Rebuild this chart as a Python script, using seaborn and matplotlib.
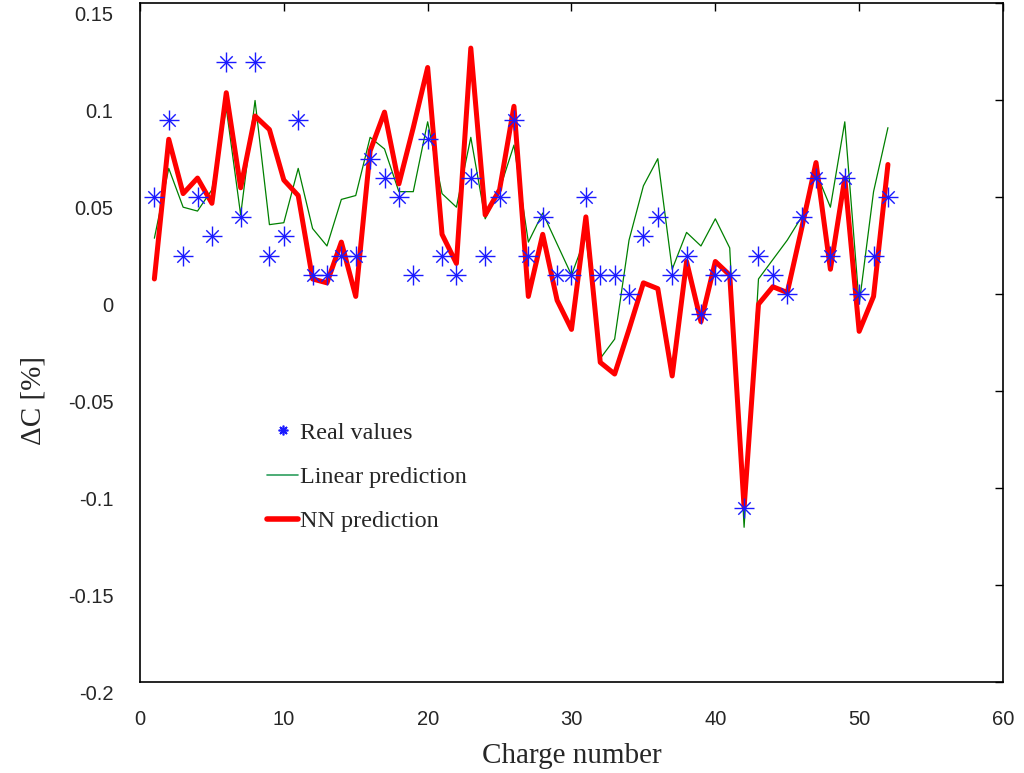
import numpy as np
import pandas as pd
import matplotlib
matplotlib.use("Agg")
import matplotlib.pyplot as plt
import matplotlib.transforms as mtransforms
from matplotlib.lines import Line2D
import seaborn as sns

charge = list(range(1, 53))

real_values = [0.05, 0.09, 0.02, 0.05, 0.03, 0.12, 0.04, 0.12, 0.02, 0.03,
               0.09, 0.01, 0.01, 0.02, 0.02, 0.07, 0.06, 0.05, 0.01, 0.08,
               0.02, 0.01, 0.06, 0.02, 0.05, 0.09, 0.02, 0.04, 0.01, 0.01,
               0.05, 0.01, 0.01, 0.00, 0.03, 0.04, 0.01, 0.02, -0.01, 0.01,
               0.01, -0.11, 0.02, 0.01, 0.00, 0.04, 0.06, 0.02, 0.06, 0.00,
               0.02, 0.05]

linear_pred = [0.029, 0.065, 0.045, 0.043, 0.054, 0.096, 0.041, 0.100, 0.036, 0.037,
               0.065, 0.034, 0.025, 0.049, 0.051, 0.081, 0.075, 0.053, 0.053, 0.089,
               0.052, 0.045, 0.081, 0.039, 0.054, 0.077, 0.027, 0.042, 0.026, 0.010,
               0.030, -0.033, -0.023, 0.028, 0.056, 0.070, 0.013, 0.032, 0.025, 0.039,
               0.024, -0.120, 0.008, 0.018, 0.028, 0.040, 0.063, 0.045, 0.089, -0.005,
               0.053, 0.086]

nn_pred = [0.008, 0.080, 0.052, 0.060, 0.047, 0.104, 0.055, 0.092, 0.085, 0.059,
           0.051, 0.008, 0.006, 0.027, -0.001, 0.074, 0.094, 0.057, 0.086, 0.117,
           0.031, 0.016, 0.127, 0.041, 0.054, 0.097, -0.001, 0.031, -0.003, -0.018,
           0.040, -0.035, -0.041, -0.018, 0.006, 0.003, -0.042, 0.017, -0.014, 0.017,
           0.010, -0.110, -0.005, 0.004, 0.001, 0.034, 0.068, 0.013, 0.060, -0.019,
           -0.001, 0.067]

x_ticks = [0, 10, 20, 30, 40, 50, 60]
y_ticks = [-0.2, -0.15, -0.1, -0.05, 0, 0.05, 0.1, 0.15]
y_tick_labels = ["-0.2", "-0.15", "-0.1", "-0.05", "0", "0.05", "0.1", "0.15"]

df = pd.DataFrame({"charge": charge, "real": real_values,
                   "linear": linear_pred, "nn": nn_pred})

sns.set_style("white")
plt.rcParams["font.family"] = ["Liberation Sans", "DejaVu Sans"]
serif = ["Liberation Serif", "DejaVu Serif"]
blue = "#1a1aff"

fig = plt.figure(figsize=(10.24, 7.73), dpi=100)
ax = fig.add_axes([0.1367, 0.1171, 0.8428, 0.8784])

sns.lineplot(data=df, x="charge", y="linear", ax=ax, color="#008000",
             linewidth=0.9, legend=False)
sns.lineplot(data=df, x="charge", y="nn", ax=ax, color="#ff0000",
             linewidth=3.6, legend=False)
# matlab style '*' = plus with a smaller x on top
sns.scatterplot(data=df, x="charge", y="real", ax=ax, marker="+", s=190,
                color=blue, linewidth=1.0, legend=False, zorder=3)
sns.scatterplot(data=df, x="charge", y="real", ax=ax, marker="x", s=80,
                color=blue, linewidth=1.0, legend=False, zorder=3)

ax.set_xlim(0, 60)
ax.set_ylim(-0.2, 0.15)
ax.set_xticks(x_ticks)
ax.set_xticklabels([str(t) for t in x_ticks])
ax.set_yticks(y_ticks)
ax.set_yticklabels(y_tick_labels)
ax.tick_params(axis="both", direction="in", length=6, width=1,
               top=True, right=True, labelsize=14.5, color="black")
ax.tick_params(axis="y", pad=19)
ax.tick_params(axis="x", pad=20)
shift = mtransforms.ScaledTranslation(0, -0.1, fig.dpi_scale_trans)
for lab in ax.get_yticklabels():
    lab.set_transform(lab.get_transform() + shift)
for sp in ax.spines.values():
    sp.set_visible(True)
    sp.set_color("black")
    sp.set_linewidth(1.2)

ax.set_xlabel("Charge number", family=serif, fontsize=21, labelpad=10)
ax.set_ylabel("ΔC [%]", family=serif, fontsize=21)
ax.yaxis.set_label_coords(-0.108, 0.416)

handles = [
    Line2D([], [], linestyle="none", marker=(8, 2, 0), markersize=7,
           markeredgecolor=blue, color=blue, markeredgewidth=1.2),
    Line2D([], [], color="#2e9e5e", linewidth=1.2),
    Line2D([], [], color="#ff0000", linewidth=4),
]
ax.legend(handles, ["Real values", "Linear prediction", "NN prediction"],
          loc="upper left", bbox_to_anchor=(0.122, 0.416), frameon=False,
          prop={"family": "Liberation Serif", "size": 17.4},
          handlelength=1.3, handletextpad=0.05, labelspacing=0.93)

fig.savefig("out.png", dpi=100)
